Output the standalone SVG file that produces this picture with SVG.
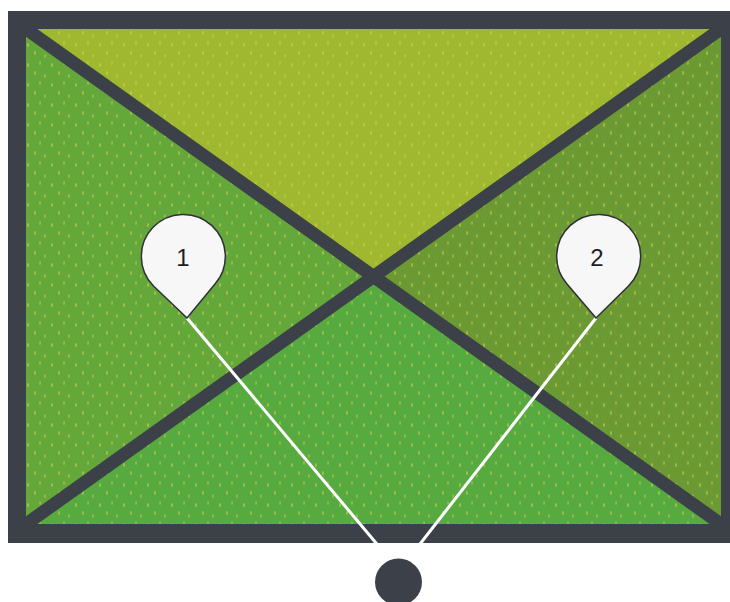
<svg xmlns="http://www.w3.org/2000/svg" width="730" height="602" viewBox="0 0 730 602">
<style>
.frame{fill:#3c4048}
.diag{stroke:#3c4048;stroke-width:13;stroke-linecap:butt}
.lead{stroke:#ffffff;stroke-width:3;fill:none}
.pin{fill:#f7f7f7;stroke:#2e3036;stroke-width:1.5}
.num{font-family:"Liberation Sans",Arial,sans-serif;font-size:24px;fill:#1e1e24;text-anchor:middle}
</style>
<defs>
<pattern id="dots" width="24" height="20" patternUnits="userSpaceOnUse">
<ellipse cx="4" cy="5" rx="1" ry="2" fill="#d9d24a" opacity="0.55"/>
<ellipse cx="16" cy="3" rx="1" ry="2" fill="#d9d24a" opacity="0.45"/>
<ellipse cx="11" cy="13" rx="1" ry="2" fill="#d9d24a" opacity="0.55"/>
<ellipse cx="21" cy="16" rx="1" ry="2" fill="#d9d24a" opacity="0.45"/>
</pattern>
</defs>
<rect width="730" height="602" fill="#ffffff"/>
<g id="field">
<rect class="frame" x="8" y="11" width="730" height="532"/>
<polygon points="26,29 721,29 373.5,276.5" fill="#a0b82f"/>
<polygon points="26,29 373.5,276.5 26,524" fill="#64a83c"/>
<polygon points="721,29 721,524 373.5,276.5" fill="#6b9a34"/>
<polygon points="26,524 373.5,276.5 721,524" fill="#57aa3f"/>
<rect x="26" y="29" width="695" height="495" fill="url(#dots)"/>
<line class="diag" x1="22" y1="26" x2="725" y2="527"/>
<line class="diag" x1="725" y1="26" x2="22" y2="527"/>
</g>
<g id="connectors">
<line class="lead" x1="187" y1="318" x2="392" y2="562"/>
<line class="lead" x1="596" y1="318" x2="406" y2="562"/>
</g>
<g id="hub">
<circle cx="398.5" cy="582" r="23.5" fill="#3c4048"/>
</g>
<g id="pin1">
<path class="pin" d="M187,318 L153.5,286 A42,42 0 1 1 215,284 Z"/>
<text class="num" x="183" y="266">1</text>
</g>
<g id="pin2">
<path class="pin" d="M596,318 L567,284 A42,42 0 1 1 628.5,286 Z"/>
<text class="num" x="597" y="266">2</text>
</g>
</svg>
